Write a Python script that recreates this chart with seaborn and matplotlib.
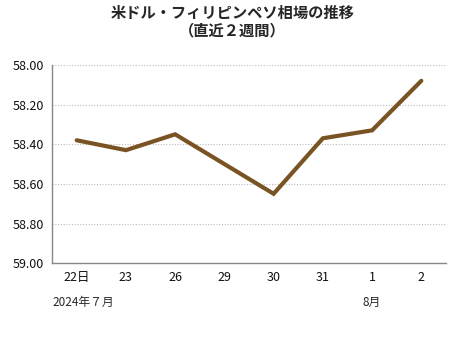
import matplotlib
matplotlib.use("Agg")
import matplotlib.pyplot as plt
import seaborn as sns
import pandas as pd

categories = ["22日", "23", "26", "29", "30", "31", "1", "2"]
rates = [58.38, 58.43, 58.35, 58.50, 58.65, 58.37, 58.33, 58.08]
y_ticks = [58.00, 58.20, 58.40, 58.60, 58.80, 59.00]
title = "米ドル・フィリピンペソ相場の推移\n（直近２週間）"
month_labels = [("2024年７月", 0), ("8月", 6)]

sns.set_theme(style="white")
plt.rcParams['font.family'] = ['Noto Sans CJK JP', 'DejaVu Sans']

df = pd.DataFrame({"day": categories, "rate": rates})

fig = plt.figure(figsize=(4.65, 3.4), dpi=100)
ax = fig.add_axes([0.112, 0.226, 0.847, 0.583])

sns.lineplot(data=df, x="day", y="rate", sort=False, ax=ax,
             color="#7a5324", linewidth=3.0, solid_capstyle="round",
             solid_joinstyle="miter")

ax.set_xlim(-0.5, len(categories) - 0.5)
ax.set_ylim(59.0, 58.0)
ax.set_yticks(y_ticks)
ax.set_yticklabels([f"{v:.2f}" for v in y_ticks], fontsize=9)
ax.set_xticks(range(len(categories)))
ax.set_xticklabels(categories, fontsize=9)
ax.tick_params(axis="both", length=0, pad=6, colors="#111111")
ax.set_xlabel("")
ax.set_ylabel("")

for v in y_ticks[:-1]:
    ax.axhline(v, color="#bbbbbb", linestyle=(0, (1, 1.5)), linewidth=0.8, zorder=0)

for s in ["top", "right"]:
    ax.spines[s].set_visible(False)
for s in ["left", "bottom"]:
    ax.spines[s].set_color("#888888")
    ax.spines[s].set_linewidth(1.0)

fig.text(0.5, 0.985, title, ha="center", va="top", fontsize=11,
         fontweight="bold", linespacing=1.1)

for text, pos in month_labels:
    xd = ax.transData.transform((pos, 0))[0]
    xf = fig.transFigure.inverted().transform((xd, 0))[0]
    if pos == 0:
        fig.text(0.112, 1 - 302 / 340, text, ha="left", va="center", fontsize=8.5)
    else:
        fig.text(xf, 1 - 302 / 340, text, ha="center", va="center", fontsize=8.5)

fig.savefig("out.png", dpi=100)
